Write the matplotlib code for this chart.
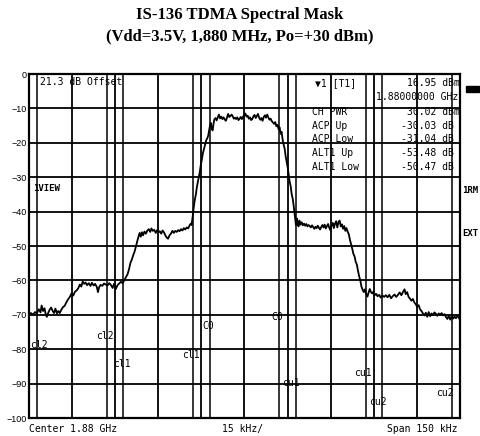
import numpy as np
import matplotlib
matplotlib.use("Agg")
import matplotlib.pyplot as plt
from matplotlib.patches import Rectangle

# spectrum trace, offset from 1.88 GHz in kHz, level in dBm
freq_khz = [
    -75.0, -74.3, -73.6, -72.9, -72.3, -71.6, -71.0, -70.6, -70.1, -69.6, -69.2, -68.8, -68.3, -67.8,
    -67.3, -66.8, -66.3, -65.8, -65.3, -64.8, -64.3, -63.8, -63.2, -62.6, -62.0, -61.4, -60.8, -60.2,
    -59.6, -59.0, -58.4, -57.8, -57.3, -56.8, -56.3, -55.8, -55.3, -54.8, -54.2, -53.6, -53.1, -52.5,
    -52.0, -51.4, -51.0, -50.6, -50.1, -49.5, -48.9, -48.3, -47.7, -47.1, -46.5, -45.9, -45.4, -44.8,
    -44.2, -43.6, -43.0, -42.4, -41.8, -41.2, -40.7, -40.2, -39.7, -39.2, -38.7, -38.2, -37.7, -37.2,
    -36.8, -36.5, -36.1, -35.7, -35.3, -34.8, -34.3, -33.8, -33.3, -32.8, -32.4, -31.9, -31.4, -30.9,
    -30.4, -29.9, -29.5, -29.0, -28.5, -28.0, -27.5, -27.0, -26.6, -26.1, -25.6, -25.1, -24.6, -24.1,
    -23.6, -23.1, -22.6, -22.1, -21.6, -21.1, -20.6, -20.1, -19.6, -19.1, -18.7, -18.4, -18.1, -17.9,
    -17.6, -17.3, -16.9, -16.6, -16.3, -15.9, -15.6, -15.2, -14.8, -14.5, -14.1, -13.7, -13.3, -12.9,
    -12.6, -12.3, -12.0, -11.7, -11.4, -11.1, -10.8, -10.5, -10.1, -9.7, -9.3, -8.9, -8.5, -8.1,
    -7.7, -7.3, -6.9, -6.5, -6.1, -5.7, -5.3, -4.9, -4.5, -4.1, -3.7, -3.3, -2.9, -2.5,
    -2.1, -1.7, -1.3, -0.9, -0.5, -0.1, 0.3, 0.7, 1.1, 1.5, 1.9, 2.3, 2.7, 3.1,
    3.5, 3.9, 4.3, 4.7, 5.1, 5.5, 5.9, 6.3, 6.7, 7.1, 7.5, 7.9, 8.3, 8.7,
    9.1, 9.5, 9.9, 10.3, 10.7, 11.1, 11.5, 11.9, 12.2, 12.6, 12.9, 13.3, 13.6, 14.0,
    14.3, 14.7, 15.0, 15.4, 15.7, 16.1, 16.4, 16.8, 17.1, 17.4, 17.7, 17.9, 18.2, 18.5,
    18.8, 19.1, 19.5, 19.9, 20.3, 20.7, 21.1, 21.5, 21.9, 22.3, 22.7, 23.1, 23.5, 23.9,
    24.3, 24.7, 25.1, 25.5, 25.9, 26.3, 26.7, 27.1, 27.5, 27.9, 28.3, 28.7, 29.1, 29.5,
    29.9, 30.3, 30.7, 31.1, 31.5, 31.9, 32.3, 32.7, 33.1, 33.5, 33.9, 34.3, 34.7, 35.1,
    35.5, 35.9, 36.3, 36.7, 37.1, 37.5, 37.9, 38.3, 38.7, 39.1, 39.5, 39.9, 40.3, 40.7,
    41.1, 41.5, 41.9, 42.3, 42.8, 43.2, 43.6, 44.0, 44.5, 44.9, 45.3, 45.8, 46.3, 46.9,
    47.4, 48.0, 48.6, 49.2, 49.8, 50.4, 51.0, 51.6, 52.2, 52.8, 53.4, 54.0, 54.6, 55.2,
    55.7, 56.1, 56.6, 57.1, 57.6, 58.1, 58.6, 59.1, 59.6, 60.1, 60.6, 61.1, 61.6, 62.1,
    62.6, 63.1, 63.6, 64.1, 64.6, 65.1, 65.6, 66.1, 66.6, 67.1, 67.6, 68.1, 68.6, 69.1,
    69.6, 70.1, 70.6, 71.1, 71.6, 72.1, 72.6, 73.1, 73.6, 74.1, 74.6, 75.0,
]
level_db = [
    -69.8, -69.5, -70.0, -69.2, -69.6, -68.4, -69.3, -67.3, -68.9, -68.1, -69.8, -70.6, -69.4, -68.5,
    -67.9, -68.8, -69.5, -68.2, -69.6, -68.9, -69.5, -68.6, -67.8, -67.4, -66.4, -65.5, -64.8, -63.8,
    -64.4, -63.3, -62.9, -62.2, -61.2, -61.8, -60.3, -61.0, -60.6, -61.4, -60.8, -61.6, -60.7, -61.5,
    -61.0, -61.9, -63.4, -62.0, -61.3, -61.6, -60.9, -61.2, -61.5, -60.8, -61.3, -62.2, -61.0, -62.5,
    -61.4, -60.9, -60.4, -60.8, -59.9, -59.0, -58.2, -56.8, -54.9, -53.9, -52.6, -51.5, -49.8, -48.2,
    -47.0, -46.2, -47.3, -46.0, -46.9, -45.8, -46.4, -45.5, -45.1, -45.9, -44.9, -45.6, -45.3, -46.2,
    -45.4, -46.0, -45.7, -46.4, -45.5, -46.1, -47.0, -47.6, -47.9, -46.9, -46.4, -45.6, -46.2, -45.6,
    -45.9, -45.4, -45.7, -45.1, -45.5, -44.8, -45.2, -44.6, -44.9, -44.0, -43.5, -43.9, -42.0, -40.5,
    -38.3, -36.6, -34.9, -33.0, -31.6, -29.9, -28.7, -26.4, -24.7, -23.1, -21.8, -20.5, -19.2, -18.6,
    -17.8, -16.4, -14.9, -14.2, -15.9, -16.4, -14.6, -13.2, -12.8, -13.5, -12.6, -11.8, -12.9, -12.4,
    -13.1, -12.6, -13.2, -13.6, -12.7, -11.6, -12.5, -12.2, -11.8, -12.3, -13.0, -12.7, -13.1, -12.6,
    -13.4, -13.0, -12.5, -13.1, -12.4, -11.9, -11.5, -12.4, -12.1, -13.0, -12.6, -13.4, -13.1, -12.3,
    -11.9, -12.8, -12.2, -11.6, -12.7, -13.3, -12.8, -13.6, -12.5, -12.0, -12.7, -11.8, -12.6, -13.3,
    -13.0, -13.7, -14.1, -14.5, -14.0, -15.2, -14.8, -16.1, -15.5, -17.4, -16.8, -19.2, -20.4, -21.8,
    -23.8, -25.6, -27.0, -29.4, -31.2, -32.8, -34.8, -36.4, -38.2, -40.3, -42.3, -43.9, -42.0, -43.4,
    -44.3, -42.6, -43.8, -43.1, -44.0, -43.5, -44.1, -43.6, -44.3, -43.9, -44.2, -44.6, -44.0, -44.5,
    -45.0, -44.4, -44.8, -44.1, -44.7, -45.2, -44.5, -43.9, -44.6, -43.8, -44.9, -44.2, -43.6, -44.7,
    -45.4, -44.0, -43.3, -44.8, -43.5, -42.8, -44.6, -43.1, -42.6, -44.3, -43.7, -45.0, -44.2, -45.6,
    -44.8, -45.8, -46.6, -48.2, -49.5, -50.8, -52.3, -53.0, -54.6, -55.4, -57.2, -58.8, -60.0, -61.8,
    -62.7, -63.4, -62.6, -63.8, -64.7, -63.5, -62.5, -63.4, -63.8, -63.2, -64.3, -63.9, -64.6, -64.2,
    -65.0, -64.4, -64.8, -64.3, -64.9, -64.2, -65.2, -64.6, -64.1, -64.8, -64.2, -63.5, -64.3, -63.3,
    -62.6, -64.0, -63.4, -64.8, -65.3, -65.9, -65.4, -66.4, -66.9, -67.7, -67.2, -68.4, -68.9, -69.6,
    -70.2, -69.4, -70.6, -69.2, -70.4, -69.6, -70.1, -69.3, -69.7, -70.3, -69.6, -70.0, -69.5, -70.2,
    -69.8, -70.6, -71.2, -70.3, -71.4, -70.4, -71.1, -70.5, -71.0, -70.3, -70.8, -71.5,
]

# channel edges (kHz) and their labels
chan_edges = [-72.15, -47.85, -42.15, -17.85, -12.15, 12.15, 17.85, 42.15, 47.85, 72.15]
chan_labels = ["cl2", "cl2", "cl1", "cl1", "C0", "C0", "cu1", "cu1", "cu2", "cu2"]
chan_label_y = [-78.8, -76.2, -84.3, -81.7, -73.3, -70.6, -89.8, -86.9, -95.3, -92.7]
chan_label_dx = [0.5, -0.6, -0.6, -0.8, -0.5, -0.7, -1.6, -1.0, -1.5, -2.3]

marker_names = ["CH PWR", "ACP Up", "ACP Low", "ALT1 Up", "ALT1 Low"]
marker_values = ["30.02 dBm", "-30.03 dB", "-31.04 dB", "-53.48 dB", "-50.47 dB"]

mono = "DejaVu Sans Mono"

fig = plt.figure(figsize=(4.81, 4.36), dpi=100)
ax = fig.add_axes([29 / 481, 1 - 418 / 436, 431 / 481, 344 / 436])

ax.plot(freq_khz, level_db, color="black", lw=1.3, zorder=3)

ax.set_xlim(-75, 75)
ax.set_ylim(-100, 0)
ax.set_xticks(np.arange(-75, 76, 15))
ax.set_yticks(np.arange(-100, 1, 10))
ax.set_xticklabels([])
ax.tick_params(length=0, pad=1.5)
for lab in ax.get_yticklabels():
    lab.set_fontfamily("Liberation Sans")
    lab.set_fontsize(6.5)
ax.grid(True, color="black", lw=1.3)
for s in ax.spines.values():
    s.set_linewidth(1.6)

for x, lab, ly, dx in zip(chan_edges, chan_labels, chan_label_y, chan_label_dx):
    ax.axvline(x, color="black", lw=1.1, zorder=2)
    ax.text(x + dx, ly, lab, fontsize=7, family=mono, ha="center", va="center", zorder=4)

# annotations from the analyser screen
ax.text(-71.2, -2.4, "21.3 dB Offset", fontsize=7, family=mono, va="center")
ax.text(-73.6, -33.4, "1VIEW", fontsize=6.5, family=mono, weight="bold", va="center")
ax.text(75.9, -33.9, "1RM", fontsize=6.5, family=mono, weight="bold", va="center", clip_on=False)
ax.text(75.9, -46.3, "EXT", fontsize=6.5, family=mono, weight="bold", va="center", clip_on=False)

ax.text(24.7, -2.6, "\u25bc1 [T1]", fontsize=7, family=mono, va="center")
ax.text(74.8, -2.6, "16.95 dBm", fontsize=7, family=mono, va="center", ha="right")
ax.text(74.3, -6.7, "1.88000000 GHz", fontsize=7, family=mono, va="center", ha="right")
rows_y = [-11.0, -15.1, -19.0, -22.9, -27.0]
for name, val, y in zip(marker_names, marker_values, rows_y):
    ax.text(23.6, y, name, fontsize=7, family=mono, va="center")
    right = 74.8 if val.endswith("m") else 72.8
    ax.text(right, y, val, fontsize=7, family=mono, va="center", ha="right")

fig.patches.append(Rectangle((466 / 481, 1 - 92 / 436), 13 / 481, 6 / 436,
                             transform=fig.transFigure, color="black"))

fig.text(29 / 481, 1 - 429 / 436, "Center 1.88 GHz", fontsize=7, family=mono, va="center")
fig.text(243 / 481, 1 - 429 / 436, "15 kHz/", fontsize=7, family=mono, va="center", ha="center")
fig.text(458 / 481, 1 - 429 / 436, "Span 150 kHz", fontsize=7, family=mono, va="center", ha="right")

fig.text(240 / 481, 1 - 15 / 436, "IS-136 TDMA Spectral Mask", fontsize=12,
         family="Liberation Serif", weight="bold", ha="center", va="center")
fig.text(240 / 481, 1 - 36 / 436, "(Vdd=3.5V, 1,880 MHz, Po=+30 dBm)", fontsize=12,
         family="Liberation Serif", weight="bold", ha="center", va="center")

fig.savefig("out.png", dpi=100)
